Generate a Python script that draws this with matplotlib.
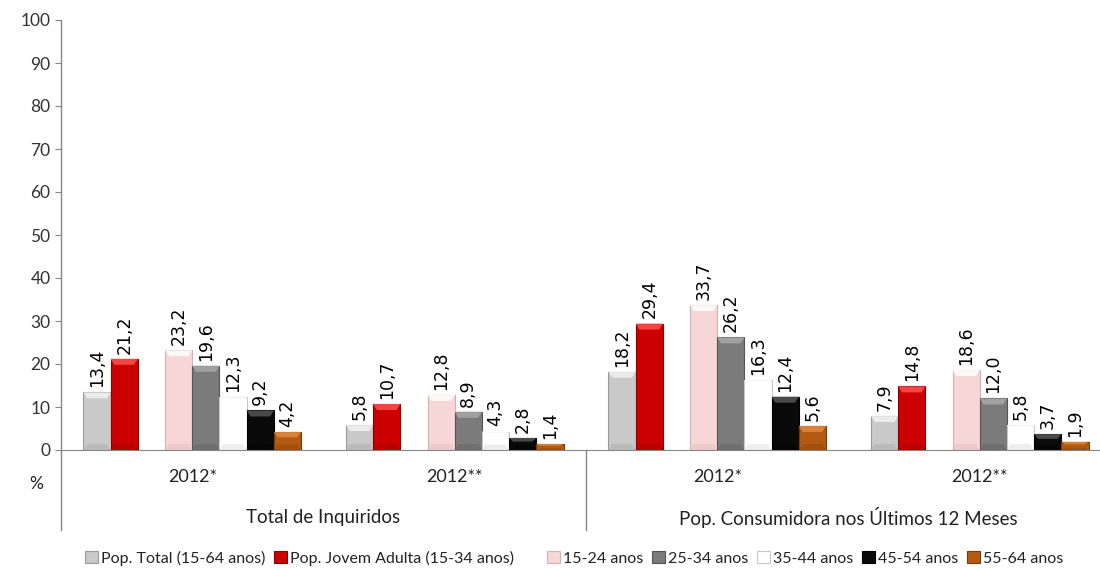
import matplotlib.pyplot as plt
import numpy as np
from matplotlib.patches import Patch, Polygon
from matplotlib.lines import Line2D

categories = ['2012*', '2012**', '2012*', '2012**']
groups = ['Total de Inquiridos', 'Pop. Consumidora nos Últimos 12 Meses']

series_names = ['Pop. Total (15-64 anos)', 'Pop. Jovem Adulta (15-34 anos)', '',
                '15-24 anos', '25-34 anos', '35-44 anos', '45-54 anos', '55-64 anos']
pop_total = [13.4, 5.8, 18.2, 7.9]
jovem_adulta = [21.2, 10.7, 29.4, 14.8]
blank = [None, None, None, None]
a15_24 = [23.2, 12.8, 33.7, 18.6]
a25_34 = [19.6, 8.9, 26.2, 12.0]
a35_44 = [12.3, 4.3, 16.3, 5.8]
a45_54 = [9.2, 2.8, 12.4, 3.7]
a55_64 = [4.2, 1.4, 5.6, 1.9]
series = [pop_total, jovem_adulta, blank, a15_24, a25_34, a35_44, a45_54, a55_64]

colors = ['#c9c9c9', '#cc0000', 'none', '#f6d6d6', '#7b7b7b', '#ffffff', '#0a0a0a', '#b35a12']
edges = ['#9a9a9a', '#8c0000', 'none', '#d8b0b0', '#555555', '#c8c8c8', '#000000', '#7a3a05']
tops = ['#f2f2f2', '#ff5050', 'none', '#ffffff', '#a8a8a8', '#ffffff', '#555555', '#e08a40']

plt.rcParams['font.family'] = ['Lato', 'DejaVu Sans']

fig = plt.figure(figsize=[11, 5.69], dpi=100)
ax = fig.add_axes([61 / 1100, (569 - 450) / 569, 1039 / 1100, 430 / 569])

x = np.arange(len(categories))
w = 0.1036
n = len(series)

for k, vals in enumerate(series):
    if vals[0] is None:
        continue
    off = (k - (n - 1) / 2) * w
    bars = ax.bar(x + off, vals, width=w, color=colors[k], edgecolor=edges[k], linewidth=0.8, zorder=3)
    for b, v in zip(bars, vals):
        bx, bw, bh = b.get_x(), b.get_width(), b.get_height()
        dx = bw * 0.14
        dy = min(1.4, bh * 0.3)
        # bevel top highlight
        ax.add_patch(Polygon([[bx, bh], [bx + bw, bh], [bx + bw - dx, bh - dy], [bx + dx, bh - dy]],
                             closed=True, facecolor=tops[k], edgecolor='none', alpha=0.85, zorder=4))
        # bevel bottom shade
        ax.add_patch(Polygon([[bx, 0], [bx + bw, 0], [bx + bw - dx, dy], [bx + dx, dy]],
                             closed=True, facecolor=edges[k], edgecolor='none', alpha=0.3, zorder=4))
        ax.text(bx + bw / 2, bh + 1.2, f'{v:.1f}'.replace('.', ','), rotation=90, ha='center', va='bottom',
                fontsize=12.5, family='DejaVu Sans', color='#000000', zorder=5)

ax.set_xlim(-0.5, -0.5 + 1039 / 262.5)
ax.set_ylim(0, 100)
ax.set_yticks(np.arange(0, 101, 10))
ax.set_xticks([])
ax.tick_params(axis='y', labelsize=12.5, colors='#868686', labelcolor='#333333', length=4, direction='out')

for s in ['top', 'right']:
    ax.spines[s].set_visible(False)
ax.spines['bottom'].set_color('#868686')
ax.spines['left'].set_visible(False)

# extended left axis line and group divider
ax.add_line(Line2D([0, 0], [-0.186, 1], transform=ax.transAxes, color='#868686', lw=1, clip_on=False))
div_x = (586 - 61) / 1039
ax.add_line(Line2D([div_x, div_x], [-0.186, 0], transform=ax.transAxes, color='#868686', lw=1, clip_on=False))

trans = ax.get_xaxis_transform()
for xi, c in zip(x, categories):
    ax.text(xi, -0.063, c, transform=trans, ha='center', va='center', fontsize=13, color='#222222')
for gi, g in enumerate(groups):
    ax.text(gi * 2 + 0.5, -0.157, g, transform=trans, ha='center', va='center', fontsize=13.5, color='#222222')
ax.text(-0.024, -0.079, '%', transform=ax.transAxes, ha='center', va='center', fontsize=12.5, color='#222222')

handles = []
for k in range(n):
    if series[k][0] is None:
        handles.append(Patch(facecolor='none', edgecolor='none'))
    else:
        handles.append(Patch(facecolor=colors[k], edgecolor=edges[k], linewidth=0.8))
fig.legend(handles=handles, labels=series_names, loc='center', bbox_to_anchor=(0.522, 1 - 558 / 569), ncol=n,
           frameon=False, fontsize=11.5, handlelength=0.8, handleheight=0.8, handletextpad=0.2,
           columnspacing=0.55, labelcolor='#222222')

fig.savefig('out.png', dpi=100)
